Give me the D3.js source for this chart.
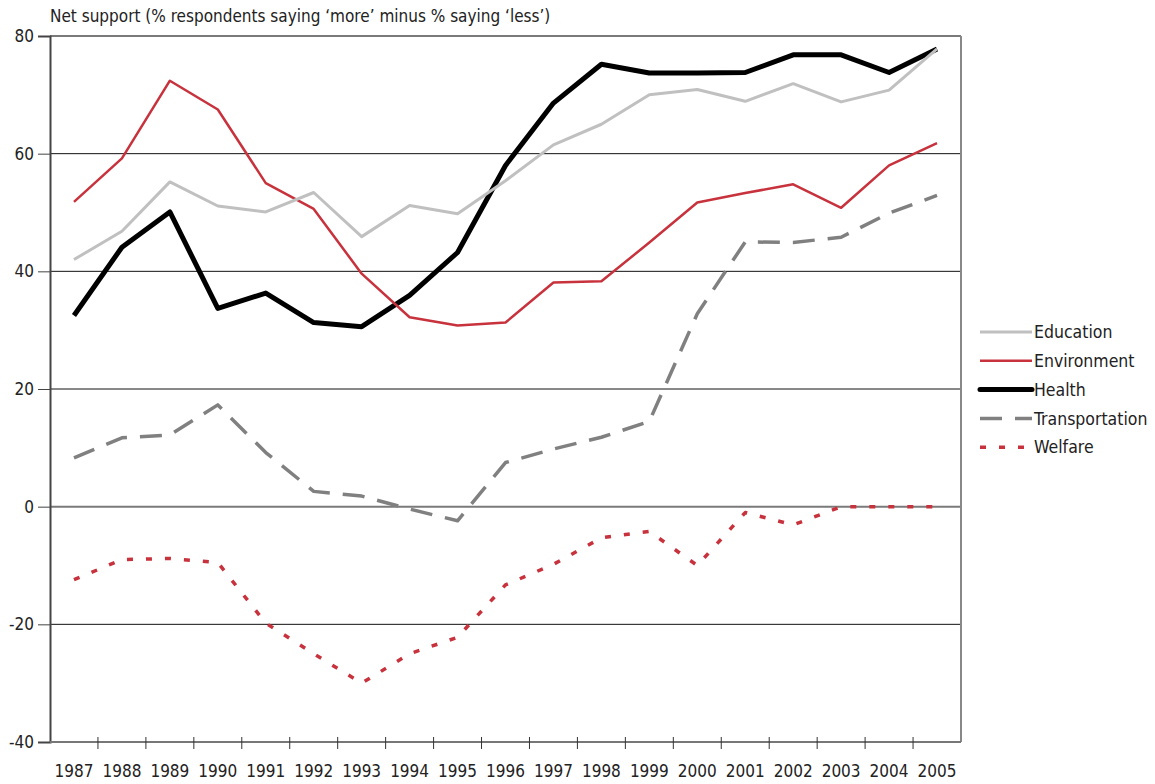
<!DOCTYPE html>
<html>
<head>
<meta charset="utf-8">
<script src="https://cdn.jsdelivr.net/npm/d3@7"></script>
<style>
  body { margin: 0; background: #fff; }
  text { font-family: 'DejaVu Sans Condensed', 'Liberation Sans Narrow', sans-serif; fill: #222; }
</style>
</head>
<body>
<svg id="chart" width="1155" height="784"></svg>
<script>
const years = ['1987', '1988', '1989', '1990', '1991', '1992', '1993', '1994', '1995', '1996',
  '1997', '1998', '1999', '2000', '2001', '2002', '2003', '2004', '2005']

const education = [42.0, 46.8, 55.2, 51.1, 50.1, 53.4, 45.9, 51.2, 49.8, 55.4, 61.5, 65.0, 70.0, 70.9, 68.9, 71.9, 68.8, 70.8, 77.8]
const environment = [51.8, 59.2, 72.4, 67.5, 55.0, 50.6, 39.6, 32.2, 30.8, 31.3, 38.1, 38.3, 44.9, 51.7, 53.3, 54.8, 50.8, 58.0, 61.8]
const health = [32.5, 44.1, 50.1, 33.7, 36.3, 31.3, 30.6, 35.9, 43.2, 58.0, 68.6, 75.2, 73.7, 73.7, 73.8, 76.8, 76.8, 73.8, 77.8]
const transportation = [8.3, 11.7, 12.2, 17.3, 9.2, 2.6, 1.8, -0.4, -2.4, 7.5, 9.8, 11.8, 14.5, 32.8, 45.0, 44.9, 45.8, 49.9, 52.9]
const welfare = [-12.4, -9.0, -8.8, -9.5, -19.8, -25.0, -30.0, -25.0, -22.2, -13.3, -9.8, -5.3, -4.2, -10.0, -1.0, -3.1, 0, 0, 0]

const yTicks = [80, 60, 40, 20, 0, -20, -40]
const title = 'Net support (% respondents saying \u2018more\u2019 minus % saying \u2018less\u2019)'

const series = [
  { name: 'Education', values: education, color: '#c0c0c0', width: 3, dash: null },
  { name: 'Environment', values: environment, color: '#c8323c', width: 2.5, dash: null },
  { name: 'Health', values: health, color: '#000', width: 5, dash: null },
  { name: 'Transportation', values: transportation, color: '#808080', width: 3.5, dash: '22,13' },
  { name: 'Welfare', values: welfare, color: '#c8323c', width: 3.5, dash: '6,13' }
]

const margin = { top: 36, right: 194, bottom: 42, left: 50 }
const width = 1155 - margin.left - margin.right
const height = 784 - margin.top - margin.bottom

const svg = d3.select('#chart')
const g = svg.append('g').attr('transform', `translate(${margin.left}, ${margin.top})`)

const xScale = d3.scaleBand().domain(years).range([0, width])
const yScale = d3.scaleLinear().domain([-40, 80]).range([height, 0])

// gridlines
g.append('g')
  .selectAll('line')
  .data(yTicks.filter((d) => d !== -40))
  .enter()
  .append('line')
  .attr('x1', 0)
  .attr('x2', width)
  .attr('y1', (d) => yScale(d))
  .attr('y2', (d) => yScale(d))
  .attr('stroke', (d) => (d === 0 || d === 80 ? '#7a7a7a' : '#111'))
  .attr('stroke-width', (d) => (d === 0 || d === 80 ? 2 : 1))

// right border
g.append('line')
  .attr('x1', width).attr('x2', width)
  .attr('y1', 0).attr('y2', height)
  .attr('stroke', '#888').attr('stroke-width', 2)

// y axis
const yAxis = g.append('g').call(
  d3.axisLeft(yScale).tickValues(yTicks).tickSize(12).tickPadding(4).tickFormat((d) => String(d))
)
yAxis.select('.domain').attr('stroke', '#444').attr('stroke-width', 2)
yAxis.selectAll('.tick line').attr('stroke', '#444')
yAxis.selectAll('text').attr('font-size', '17px').attr('fill', '#222')
  .style('font-family', "'DejaVu Sans Condensed', sans-serif")

// x axis (ticks between categories)
const xAxisG = g.append('g').attr('transform', `translate(0, ${height})`)
xAxisG.append('line').attr('x1', 0).attr('x2', width).attr('stroke', '#777').attr('stroke-width', 2)
xAxisG.selectAll('.sep')
  .data(years.slice(1))
  .enter()
  .append('line')
  .attr('class', 'sep')
  .attr('x1', (d) => xScale(d))
  .attr('x2', (d) => xScale(d))
  .attr('y1', -5)
  .attr('y2', 7)
  .attr('stroke', '#333')
xAxisG.selectAll('.lbl')
  .data(years)
  .enter()
  .append('text')
  .attr('class', 'lbl')
  .attr('x', (d) => xScale(d) + xScale.bandwidth() / 2)
  .attr('y', 35)
  .attr('text-anchor', 'middle')
  .attr('font-size', '17px')
  .text((d) => d)

// lines
const line = d3.line()
  .x((d, i) => xScale(years[i]) + xScale.bandwidth() / 2)
  .y((d) => yScale(d))

g.append('g')
  .selectAll('path')
  .data(series.slice().reverse())
  .enter()
  .append('path')
  .attr('d', (d) => line(d.values))
  .attr('fill', 'none')
  .attr('stroke', (d) => d.color)
  .attr('stroke-width', (d) => d.width)
  .attr('stroke-dasharray', (d) => d.dash)
  .attr('stroke-linejoin', 'round')

// title
svg.append('text')
  .attr('x', margin.left)
  .attr('y', 22)
  .attr('font-size', '17px')
  .text(title)

// legend
const legend = svg.append('g').attr('transform', 'translate(980, 332)')
const items = legend.selectAll('.item')
  .data(series)
  .enter()
  .append('g')
  .attr('class', 'item')
  .attr('transform', (d, i) => `translate(0, ${i * 28.8})`)
items.append('line')
  .attr('x1', 0).attr('x2', 52)
  .attr('stroke', (d) => d.color)
  .attr('stroke-width', (d) => d.width)
  .attr('stroke-dasharray', (d) => d.dash)
  .attr('stroke-linecap', (d) => (d.name === 'Health' ? 'round' : 'butt'))
items.append('text')
  .attr('x', 54)
  .attr('dy', '0.35em')
  .attr('font-size', '17.5px')
  .text((d) => d.name)
</script>
</body>
</html>
